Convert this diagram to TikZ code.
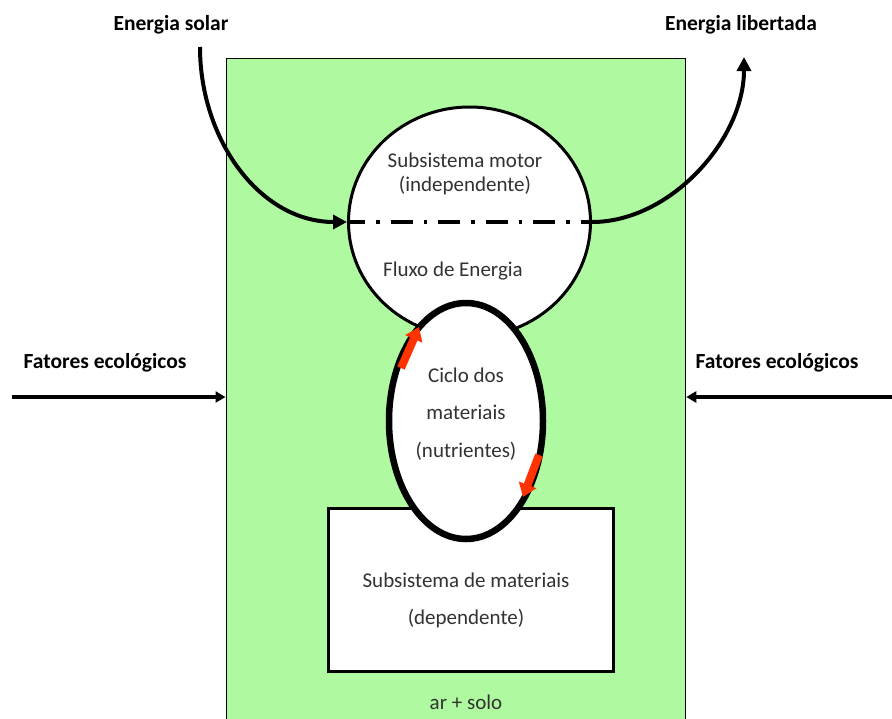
\documentclass[tikz,border=0pt]{standalone}
\usepackage{fontspec}
\setmainfont{Carlito}
\usetikzlibrary{arrows.meta,shapes.geometric}
\definecolor{bggreen}{RGB}{175,250,160}
\definecolor{txtgray}{RGB}{50,50,50}
\definecolor{cyclered}{RGB}{255,51,0}
\begin{document}
\begin{tikzpicture}[x=1pt,y=-1pt,
  lbl/.style={font=\fontsize{21.5}{24}\selectfont\bfseries, text=black, inner sep=0pt},
  body/.style={font=\fontsize{21}{24}\selectfont, text=txtgray, inner sep=0pt},
  inarrow/.style={line width=3.5pt, -{Triangle[length=10pt,width=11pt]}},
  energyarrow/.style={line width=4pt, -{Triangle[length=14pt,width=14pt]}},
  redarrow/.style={draw=cyclered, line width=8pt, -{Triangle[length=13pt,width=18pt]}},
  whiteshape/.style={draw=black, fill=white, inner sep=0pt}]
\useasboundingbox (0,0) rectangle (892,718);

% environment (ar + solo)
\node[draw=black, line width=1.8pt, fill=bggreen, minimum width=459pt,
      minimum height=680pt, inner sep=0pt, anchor=north west] (greenbox) at (225.5,57.5) {};

% energy subsystem
\node[whiteshape, ellipse, line width=3pt, minimum width=242pt, minimum height=230pt] (motor) at (469.5,222) {};
% materials subsystem
\node[whiteshape, rectangle, line width=3.5pt, minimum width=285pt, minimum height=163pt] (dep) at (471,590) {};
% nutrient cycle
\node[whiteshape, ellipse, line width=6.5pt, minimum width=154pt, minimum height=236pt] (cycle) at (466,421) {};

% energy flow line
\draw[line width=4.5pt, dash pattern=on 22pt off 11pt on 3.5pt off 11pt, dash phase=4pt] (motor.west) -- (motor.east);

% texts
\node[body] (t1) at (465,160) {Subsistema motor};
\node[body] (t2) at (465,186) {(independente)};
\node[body] (t3) at (453,271) {Fluxo de Energia};
\node[body] (t4) at (466,375) {Ciclo dos};
\node[body] (t5) at (466,412) {materiais};
\node[body] (t6) at (466,451) {(nutrientes)};
\node[body] (t7) at (466,580) {Subsistema de materiais};
\node[body] (t8) at (466,619) {(dependente)};
\node[body] (t9) at (466,702) {ar + solo};

% outer labels
\node[lbl] (solar) at (171,25) {Energia solar};
\node[lbl] (libert) at (741,25) {Energia libertada};
\node[lbl] (fatl) at (105,363) {Fatores ecológicos};
\node[lbl] (fatr) at (777,363) {Fatores ecológicos};

% energy arrows
\coordinate (solarstart) at (200,47);
\coordinate (libend) at (744,57);
\draw[energyarrow] (solarstart) .. controls (200,140) and (260,222) .. (motor.west);
\draw[energyarrow] (motor.east) .. controls (670,222) and (744,140) .. (libend);

% ecological factors
\coordinate (fatlstart) at (12,397);
\coordinate (fatrstart) at (892,397);
\draw[inarrow] (fatlstart) -- (fatlstart -| greenbox.west);
\draw[inarrow] (fatrstart) -- (fatrstart -| greenbox.east);

% cycle direction
\coordinate (ra1) at (401,368);
\coordinate (rb1) at (419,327);
\coordinate (ra2) at (539,455);
\coordinate (rb2) at (523,497);
\draw[redarrow] (ra1) -- (rb1);
\draw[redarrow] (ra2) -- (rb2);
\end{tikzpicture}
\end{document}
